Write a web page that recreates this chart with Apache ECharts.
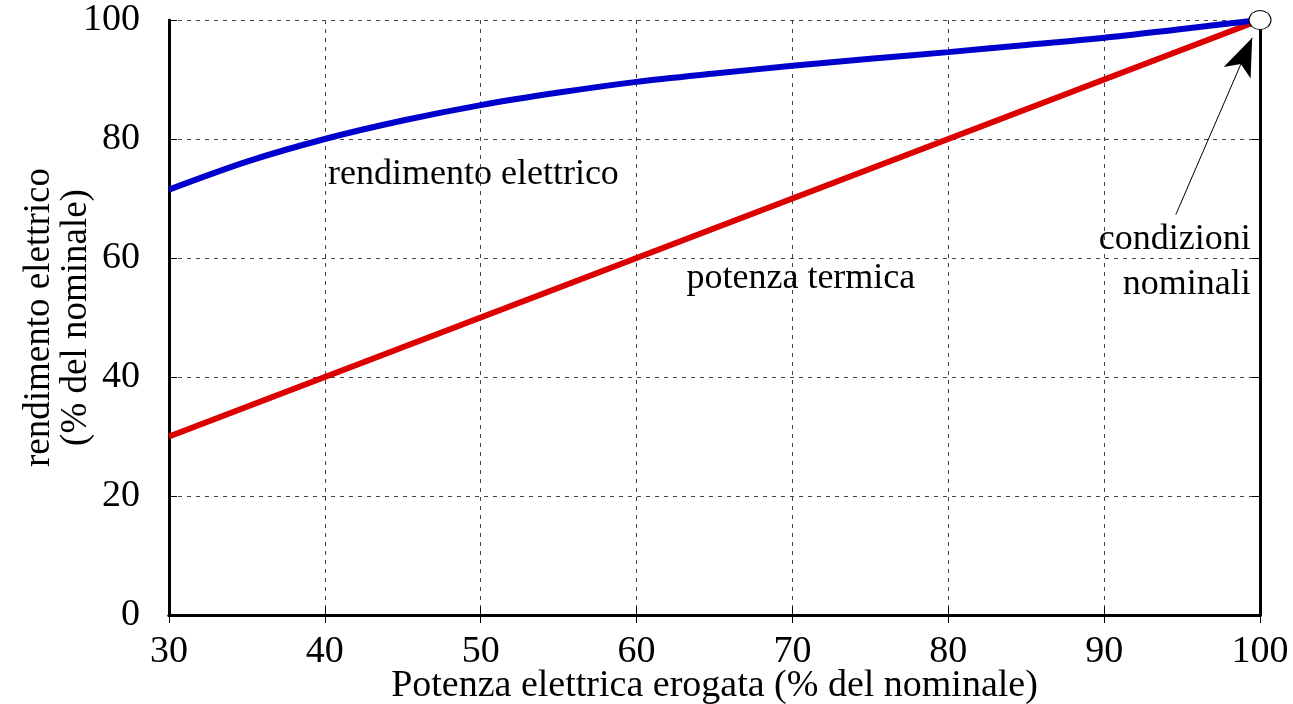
<!DOCTYPE html>
<html><head><meta charset="utf-8">
<script src="https://cdn.jsdelivr.net/npm/echarts@6/dist/echarts.min.js"></script>
<style>html,body{margin:0;padding:0;background:#fff}#c{width:1293px;height:704px}</style>
</head><body><div id="c"></div>
<script>
const xValues = [30,35,40,45,50,55,60,65,70,75,80,85,90,95,100];
const rendimento = [71.5,76.2,80.0,83.1,85.7,87.8,89.6,91.0,92.3,93.5,94.6,95.8,97.0,98.5,100];
const potenzaTermica = [30,35,40,45,50,55,60,65,70,75,80,85,90,95,100];
const xTicks = [30,40,50,60,70,80,90,100];
const yTicks = [0,20,40,60,80,100];
const nominalPoint = [100,100];
const labelRend = {text:'rendimento elettrico', coord:[40.2,74]};
const labelPot = {text:'potenza termica', coord:[63.2,56.5]};
const labelNom = {text:'condizioni\nnominali', coord:[99.4,59.3]};
const arrowFrom = [94.6,67.3], arrowTo = [99.5,97.0];

const FONT = 'Liberation Serif';
const chart = echarts.init(document.getElementById('c'));
const grid = {left:169, right:33, top:20, bottom:89, containLabel:false, outerBoundsMode:'none'};
const gridLine = {show:true, lineStyle:{color:'#444', type:[4,5], width:1}};
const axisLine = {show:true, lineStyle:{color:'#000', width:3}};
const tick = {show:true, inside:true, length:8, lineStyle:{color:'#000', width:1}};
const textLabel = (text, align, extra) => Object.assign({show:true, position:'inside', align, verticalAlign:'middle',
  formatter:text, fontFamily:FONT, fontSize:36, color:'#000', opacity:1}, extra||{});
const option = {
  animation:false,
  textStyle:{fontFamily:FONT},
  grid,
  xAxis:[{type:'value', min:30, max:100, interval:10, position:'bottom',
    axisLine, axisTick:tick, splitLine:gridLine,
    axisLabel:{fontFamily:FONT, fontSize:38, color:'#000', margin:18},
    name:'Potenza elettrica erogata (% del nominale)', nameLocation:'middle', nameGap:52, nameMoveOverlap:false,
    nameTextStyle:{fontFamily:FONT, fontSize:38, color:'#000'}},
   {type:'value', min:30, max:100, interval:10, position:'top',
    axisLine, axisTick:tick, splitLine:{show:false}, axisLabel:{show:false}}],
  yAxis:[{type:'value', min:0, max:100, interval:20, position:'left',
    axisLine, axisTick:tick, splitLine:gridLine,
    axisLabel:{fontFamily:FONT, fontSize:38, color:'#000', margin:29},
    name:'rendimento elettrico\n(% del nominale)', nameLocation:'middle', nameGap:74, nameMoveOverlap:false,
    nameTextStyle:{fontFamily:FONT, fontSize:37, color:'#000', lineHeight:37}},
   {type:'value', min:0, max:100, interval:20, position:'right',
    axisLine, axisTick:tick, splitLine:{show:false}, axisLabel:{show:false}}],
  series:[
    {type:'line', name:'potenza termica', data:xValues.map((x,i)=>[x,potenzaTermica[i]]),
     showSymbol:false, lineStyle:{color:'#dd0000', width:6}, z:3},
    {type:'line', name:'rendimento elettrico', data:xValues.map((x,i)=>[x,rendimento[i]]),
     showSymbol:false, smooth:0.3, lineStyle:{color:'#0000cc', width:6}, z:3,
     markLine:{silent:true, symbol:['none','arrow'], symbolSize:[22,38],
       lineStyle:{color:'#000', width:1, type:'solid'}, itemStyle:{color:'#000'}, label:{show:false},
       data:[[{coord:arrowFrom},{coord:arrowTo}]]}},
    {type:'scatter', data:[nominalPoint], symbol:'circle', symbolSize:[22,19], clip:false, z:5,
     itemStyle:{color:'#fff', borderColor:'#000', borderWidth:1, opacity:1}},
    {type:'scatter', data:[labelRend.coord], symbolSize:0, clip:false, itemStyle:{opacity:1},
     label:textLabel(labelRend.text,'left')},
    {type:'scatter', data:[labelPot.coord], symbolSize:0, clip:false, itemStyle:{opacity:1},
     label:textLabel(labelPot.text,'left')},
    {type:'scatter', data:[labelNom.coord], symbolSize:0, clip:false, itemStyle:{opacity:1},
     label:textLabel(labelNom.text,'right',{lineHeight:45})}
  ]
};
chart.setOption(option);
</script></body></html>
